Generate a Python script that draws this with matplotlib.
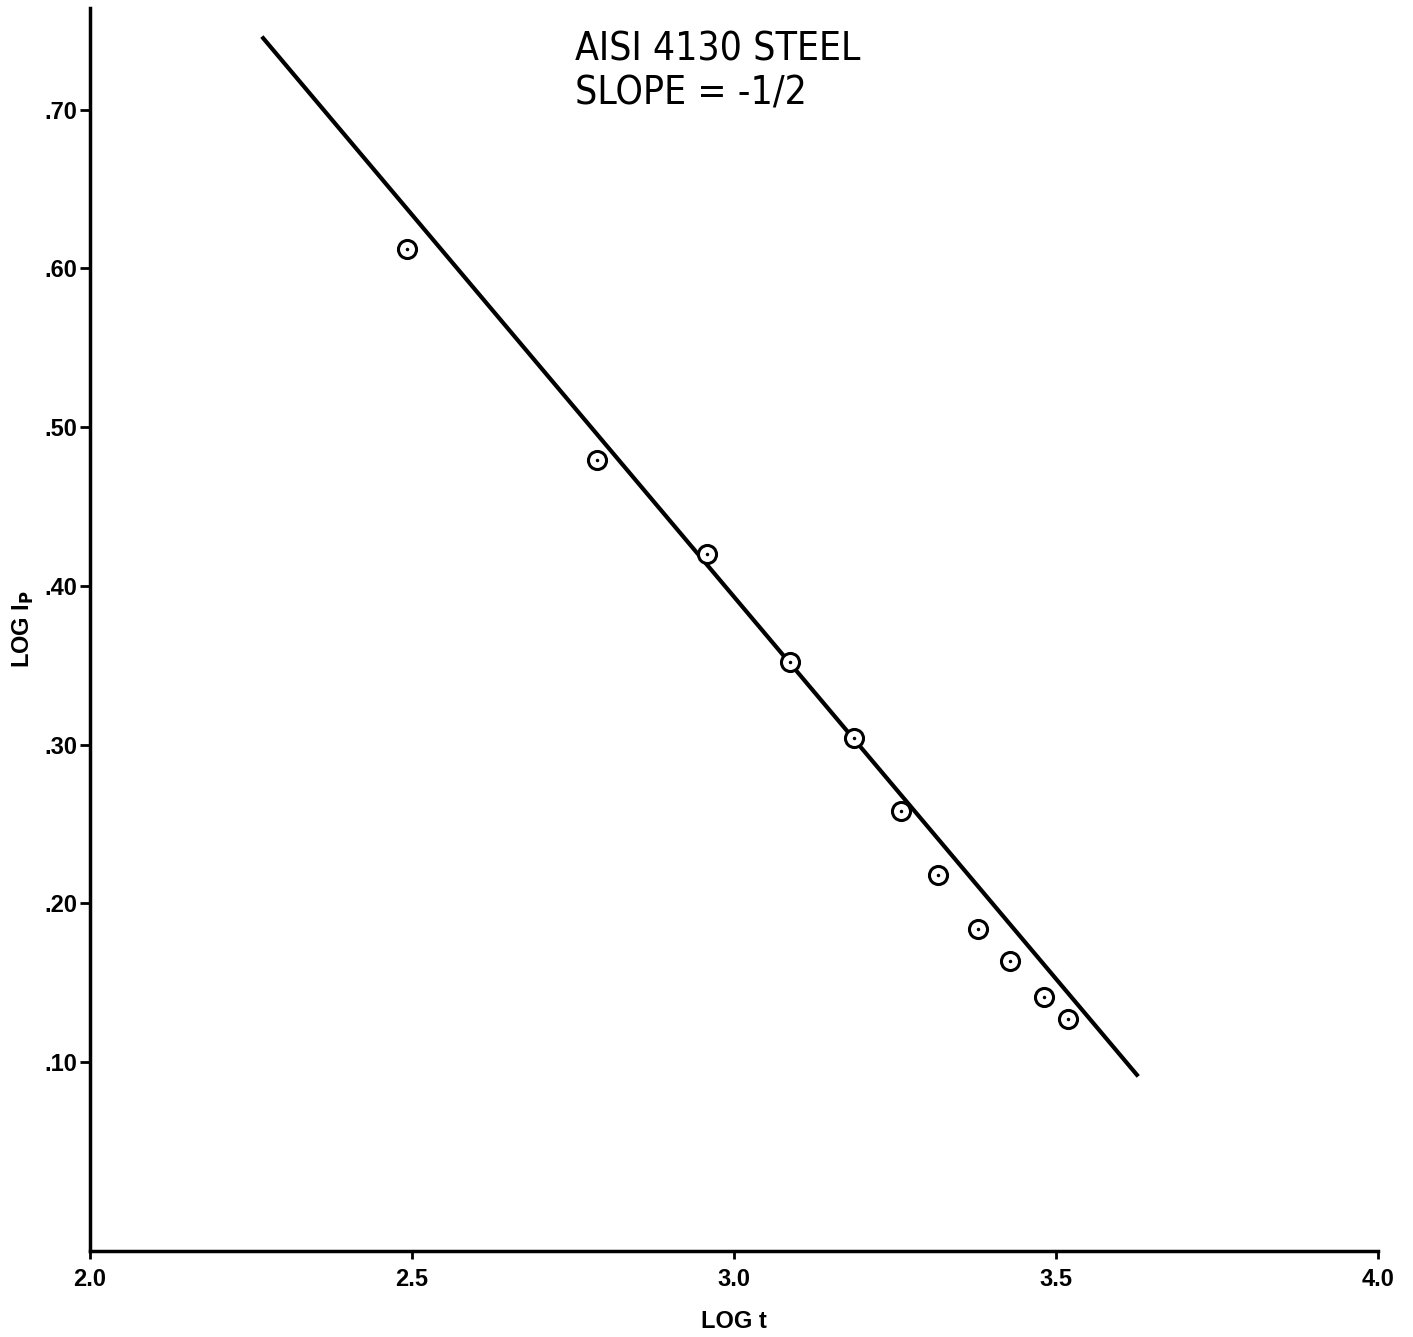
import matplotlib.pyplot as plt

plt.rcParams['font.family'] = ['Liberation Sans', 'DejaVu Sans']

log_t = [2.492, 2.787, 2.958, 3.087, 3.186, 3.259, 3.317, 3.380, 3.429, 3.481, 3.519]
log_ip = [0.612, 0.479, 0.420, 0.352, 0.304, 0.258, 0.218, 0.184, 0.164, 0.141, 0.127]

# fitted line end points
fit_t = [2.269, 3.626]
fit_ip = [0.745, 0.092]

xticks = [2.0, 2.5, 3.0, 3.5, 4.0]
xlabels = ["2.0", "2.5", "3.0", "3.5", "4.0"]
yticks = [0.10, 0.20, 0.30, 0.40, 0.50, 0.60, 0.70]
ylabels = [".10", ".20", ".30", ".40", ".50", ".60", ".70"]

fig = plt.figure(figsize=(14.13, 13.37), dpi=100)
ax = fig.add_axes([0.0637, 0.0643, 0.9113, 0.9297])

ax.plot(fit_t, fit_ip, color="black", lw=3)
ax.plot(log_t, log_ip, "o", ms=13, mfc="white", mec="black", mew=2.2)
ax.plot(log_t, log_ip, ".", ms=3, color="black")

ax.set_xlim(2.0, 4.0)
ax.set_ylim(-0.019, 0.764)
ax.set_xticks(xticks)
ax.set_xticklabels(xlabels, fontsize=17, fontweight="bold")
ax.set_yticks(yticks)
ax.set_yticklabels(ylabels, fontsize=17, fontweight="bold")
ax.tick_params(axis="y", length=7, width=2, pad=2)
ax.tick_params(axis="x", length=6, width=2, pad=6)

for s in ["top", "right"]:
    ax.spines[s].set_visible(False)
for s in ["left", "bottom"]:
    ax.spines[s].set_linewidth(2.5)

ax.set_xlabel("LOG t", fontsize=17, fontweight="bold", labelpad=14)
ax.set_ylabel("LOG I$_\\mathbf{P}$", fontsize=17, fontweight="bold", labelpad=6)

ax.text(0.377, 0.982, "AISI 4130 STEEL\nSLOPE = -1/2", transform=ax.transAxes,
        fontsize=28, family=["DejaVu Sans"], fontstretch="condensed",
        va="top", ha="left", linespacing=1.2)

fig.savefig("out.png", dpi=100)
